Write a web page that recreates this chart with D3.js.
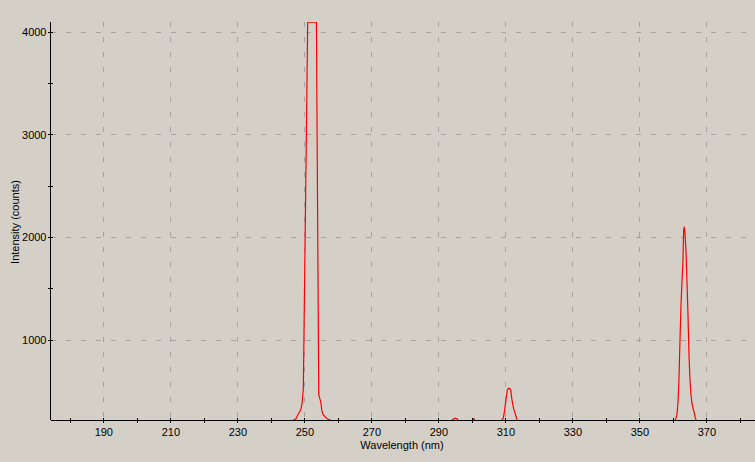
<!DOCTYPE html>
<html>
<head>
<meta charset="utf-8">
<script src="https://cdn.jsdelivr.net/npm/d3@7"></script>
<style>
  body { margin: 0; background: #d4d0c8; }
  svg { display: block; }
  .axis text { font-family: "Liberation Sans", Arial, sans-serif; font-size: 11px; fill: #000; }
  .axis path, .axis line { stroke: #000; shape-rendering: crispEdges; }
  .grid line { stroke: #a4a4a4; stroke-dasharray: 5,10; shape-rendering: crispEdges; }
  .title { font-family: "Liberation Sans", Arial, sans-serif; font-size: 11px; fill: #000; }
</style>
</head>
<body>
<div id="chart"></div>
<script>
const W = 755, H = 462;

// spectrum samples (nm, counts); baseline sits below the visible range
const wavelength = [174.2, 246.0, 246.7, 247.5, 248.2, 248.9, 249.3, 249.7, 251.0, 253.6, 254.3, 254.9, 255.2, 255.5, 256.2, 256.9, 257.9, 258.6,
  293.9, 294.6, 295.1, 295.6, 296.1, 300.4, 300.6, 300.8,
  308.8, 309.4, 309.7, 310.0, 310.3, 310.6, 310.9, 311.3, 311.6, 311.9, 312.2, 312.6, 312.9, 313.2, 313.6,
  360.6, 361.2, 361.5, 361.8, 362.1, 362.4, 362.7, 363.0, 363.2, 363.4, 363.6, 363.9, 364.2, 364.5, 364.8, 365.1, 365.4, 365.7, 366.0, 366.3, 366.6, 367.0, 384.5];
const counts = [180, 190, 212, 227, 273, 312, 370, 520, 4095, 4095, 460, 393, 312, 273, 247, 224, 212, 190,
  205, 228, 232, 228, 205, 205, 232, 205,
  205, 237, 296, 368, 442, 507, 524, 524, 507, 426, 368, 312, 280, 247, 205,
  205, 263, 378, 605, 979, 1320, 1564, 1759, 2068, 2100, 2036, 1873, 1564, 1239, 849, 605, 459, 378, 329, 296, 247, 205, 180];

const xTicks = d3.range(180, 381, 10);
const xLabels = d3.range(190, 371, 20);
const yTicks = d3.range(1000, 4001, 500);
const yLabels = [1000, 2000, 3000, 4000];

const mLeft = 50.5, mRight = 755, mTop = 22, mBottom = 420;

const x = d3.scaleLinear().domain([174.24, 384.5]).range([mLeft, mRight]);
const y = d3.scaleLinear().domain([215, 4097]).range([mBottom, mTop]);

const svg = d3.select("#chart").append("svg")
    .attr("width", W).attr("height", H);

svg.append("rect").attr("width", W).attr("height", H).attr("fill", "#d4d0c8");

svg.append("clipPath").attr("id", "plot")
  .append("rect")
    .attr("x", mLeft).attr("y", mTop)
    .attr("width", mRight - mLeft).attr("height", mBottom - mTop);

// dashed grid at the labelled ticks
const grid = svg.append("g").attr("class", "grid");
grid.selectAll("line.v").data(xLabels).enter()
  .append("line").attr("class", "v")
    .attr("x1", d => Math.round(x(d)) + 0.5).attr("x2", d => Math.round(x(d)) + 0.5)
    .attr("y1", mTop).attr("y2", mBottom);
grid.selectAll("line.h").data(yLabels).enter()
  .append("line").attr("class", "h")
    .attr("x1", mLeft).attr("x2", mRight)
    .attr("y1", d => Math.round(y(d)) + 0.5).attr("y2", d => Math.round(y(d)) + 0.5);

// spectrum
const pts = wavelength.map((w, i) => [w, counts[i]]);
svg.append("path")
    .datum(pts)
    .attr("clip-path", "url(#plot)")
    .attr("fill", "none")
    .attr("stroke", "#ff0000")
    .attr("stroke-width", 1.2)
    .attr("d", d3.line().x(d => x(d[0])).y(d => y(d[1])));

// axes
const xAxis = svg.append("g").attr("class", "axis")
    .attr("transform", `translate(0,${mBottom})`)
    .call(d3.axisBottom(x).tickValues(xTicks).tickSize(3).tickSizeOuter(0)
      .tickFormat(d => xLabels.includes(d) ? d : ""));
xAxis.selectAll(".tick line").attr("y1", -2);
xAxis.selectAll(".tick text").attr("dy", "0.95em");
xAxis.select(".domain").attr("d", `M${mLeft},0.5H${mRight}`);

const yAxis = svg.append("g").attr("class", "axis")
    .attr("transform", `translate(${mLeft},0)`)
    .call(d3.axisLeft(y).tickValues(yTicks).tickSize(3).tickSizeOuter(0)
      .tickFormat(d => yLabels.includes(d) ? d : ""));
yAxis.selectAll(".tick line").attr("x1", 2);
yAxis.selectAll(".tick text").attr("x", -4);
yAxis.select(".domain").attr("d", `M0,${mTop}V${mBottom}`);

svg.append("text").attr("class", "title")
    .attr("x", 402).attr("y", 449)
    .attr("text-anchor", "middle")
    .text("Wavelength (nm)");

svg.append("text").attr("class", "title")
    .attr("transform", "translate(19,222) rotate(-90)")
    .attr("text-anchor", "middle")
    .text("Intensity (counts)");
</script>
</body>
</html>
